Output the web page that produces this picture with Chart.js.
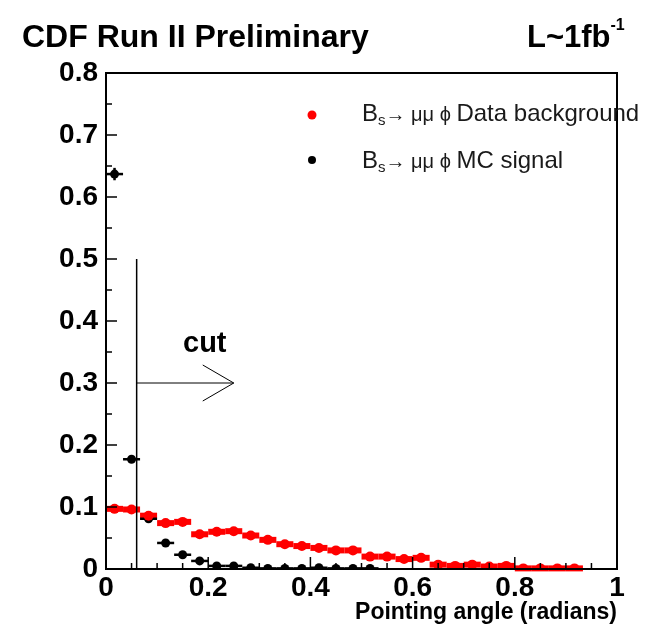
<!DOCTYPE html>
<html>
<head>
<meta charset="utf-8">
<script src="https://cdn.jsdelivr.net/npm/chart.js@4/dist/chart.umd.min.js"></script>
<style>
  html, body { margin: 0; padding: 0; background: #fff; }
</style>
</head>
<body>
<canvas id="angle-chart" width="657" height="628"></canvas>
<script>
// histogram bins of the pointing angle, 30 bins between 0 and 1 rad
const binWidth = 1 / 30;

// Bs -> mu mu phi data background (red)
const bgAngle = [0.0167, 0.05, 0.0833, 0.1167, 0.15, 0.1833, 0.2167, 0.25, 0.2833, 0.3167,
                 0.35, 0.3833, 0.4167, 0.45, 0.4833, 0.5167, 0.55, 0.5833, 0.6167, 0.65,
                 0.6833, 0.7167, 0.75, 0.7833, 0.8167, 0.85, 0.8833, 0.9167];
const bgValues = [0.097, 0.096, 0.086, 0.074, 0.076, 0.056, 0.060, 0.061, 0.054, 0.047,
                  0.040, 0.037, 0.034, 0.030, 0.030, 0.020, 0.020, 0.016, 0.018, 0.007,
                  0.005, 0.007, 0.004, 0.005, 0.001, 0.001, 0.001, 0.001];

// Bs -> mu mu phi MC signal (black)
const sigAngle = [0.0167, 0.05, 0.0833, 0.1167, 0.15, 0.1833, 0.2167, 0.25, 0.2833, 0.3167,
                  0.35, 0.3833, 0.4167, 0.45, 0.4833, 0.5167];
const sigValues = [0.637, 0.177, 0.081, 0.042, 0.023, 0.013, 0.005, 0.005, 0.002, 0.001,
                   0.001, 0.001, 0.002, 0.001, 0.001, 0.001];
const sigErrors = [0.010, 0.004, 0, 0, 0, 0, 0, 0, 0, 0, 0, 0, 0, 0, 0, 0];

// selection cut
const cutAngle = 0.06;
const cutLineTop = 0.5;
const arrowLevel = 0.3;
const arrowTip = 0.25;

const FONT = '"Liberation Sans", Arial, Helvetica, sans-serif';
Chart.defaults.font.family = FONT;

function toPoints(xs, ys) {
    return xs.map((x, i) => ({ x: x, y: ys[i] }));
}

// draws text made of pieces (for sub/superscripts)
function drawPieces(ctx, x, y, pieces) {
    ctx.textAlign = 'left';
    ctx.textBaseline = 'alphabetic';
    pieces.forEach(p => {
        ctx.font = (p.bold ? 'bold ' : '') + p.size + 'px ' + FONT;
        ctx.fillText(p.t, x, y + (p.dy || 0));
        x += ctx.measureText(p.t).width;
    });
}

const histPlugin = {
    id: 'histPlugin',
    beforeDatasetsDraw(chart) {
        const ctx = chart.ctx;
        const xs = chart.scales.x, ys = chart.scales.y;
        ctx.save();
        chart.data.datasets.forEach(ds => {
            ctx.strokeStyle = ds.borderColor;
            ctx.lineWidth = ds.barWidth;
            ctx.lineCap = 'butt';
            ds.data.forEach((p, i) => {
                const y = ys.getPixelForValue(p.y);
                ctx.beginPath();
                ctx.moveTo(xs.getPixelForValue(p.x - binWidth / 2), y);
                ctx.lineTo(xs.getPixelForValue(p.x + binWidth / 2), y);
                ctx.stroke();
                const err = ds.yErr ? ds.yErr[i] : 0;
                if (err > 0) {
                    const x = xs.getPixelForValue(p.x);
                    ctx.beginPath();
                    ctx.moveTo(x, ys.getPixelForValue(p.y - err));
                    ctx.lineTo(x, ys.getPixelForValue(p.y + err));
                    ctx.stroke();
                }
            });
        });
        ctx.restore();
    },
    afterDraw(chart) {
        const ctx = chart.ctx;
        const area = chart.chartArea;
        const xs = chart.scales.x, ys = chart.scales.y;
        ctx.save();
        ctx.strokeStyle = '#000';
        ctx.fillStyle = '#000';

        // frame
        ctx.lineWidth = 2;
        ctx.strokeRect(area.left, area.top, area.right - area.left, area.bottom - area.top);

        // inward ticks, major + minor
        ctx.lineWidth = 1.5;
        const yt = ys.ticks.map(t => t.value);
        yt.forEach((v, i) => {
            const py = ys.getPixelForValue(v);
            ctx.beginPath(); ctx.moveTo(area.left, py); ctx.lineTo(area.left + 11, py); ctx.stroke();
            if (i < yt.length - 1) {
                const pm = ys.getPixelForValue((v + yt[i + 1]) / 2);
                ctx.beginPath(); ctx.moveTo(area.left, pm); ctx.lineTo(area.left + 6, pm); ctx.stroke();
            }
        });
        const xt = xs.ticks.map(t => t.value);
        xt.forEach((v, i) => {
            const px = xs.getPixelForValue(v);
            ctx.beginPath(); ctx.moveTo(px, area.bottom); ctx.lineTo(px, area.bottom - 12); ctx.stroke();
            if (i < xt.length - 1) {
                for (let k = 1; k < 4; k++) {
                    const pm = xs.getPixelForValue(v + (xt[i + 1] - v) * k / 4);
                    ctx.beginPath(); ctx.moveTo(pm, area.bottom); ctx.lineTo(pm, area.bottom - 6); ctx.stroke();
                }
            }
        });

        // cut line and arrow
        const cx = xs.getPixelForValue(cutAngle);
        const ay = ys.getPixelForValue(arrowLevel);
        const tipX = xs.getPixelForValue(arrowTip);
        ctx.lineWidth = 1.5;
        ctx.beginPath();
        ctx.moveTo(cx, area.bottom);
        ctx.lineTo(cx, ys.getPixelForValue(cutLineTop));
        ctx.stroke();
        ctx.lineWidth = 1;
        ctx.beginPath();
        ctx.moveTo(cx, ay);
        ctx.lineTo(tipX, ay);
        ctx.moveTo(tipX - 31, ay - 18);
        ctx.lineTo(tipX, ay);
        ctx.lineTo(tipX - 31, ay + 18);
        ctx.stroke();
        drawPieces(ctx, 183, 352, [{ t: 'cut', size: 29, bold: true }]);

        // legend
        ctx.fillStyle = '#ff0000';
        ctx.beginPath(); ctx.arc(312, 115, 4.5, 0, Math.PI * 2); ctx.fill();
        ctx.fillStyle = '#000';
        ctx.beginPath(); ctx.arc(312, 160, 4, 0, Math.PI * 2); ctx.fill();
        ctx.fillStyle = '#1a1a1a';
        drawPieces(ctx, 362, 121, [
            { t: 'B', size: 24 }, { t: 's', size: 15, dy: 4 },
            { t: '\u2192 \u03bc\u03bc \u03d5 ', size: 20 },
            { t: 'Data background', size: 24 }
        ]);
        drawPieces(ctx, 362, 168, [
            { t: 'B', size: 24 }, { t: 's', size: 15, dy: 4 },
            { t: '\u2192 \u03bc\u03bc \u03d5 ', size: 20 },
            { t: 'MC signal', size: 24 }
        ]);

        // headers
        ctx.fillStyle = '#000';
        drawPieces(ctx, 22, 47, [{ t: 'CDF Run II Preliminary', size: 32, bold: true }]);
        drawPieces(ctx, 527, 47, [
            { t: 'L~1fb', size: 31, bold: true }, { t: '-1', size: 16, bold: true, dy: -17 }
        ]);
        ctx.restore();
    }
};

new Chart(document.getElementById('angle-chart'), {
    type: 'scatter',
    data: {
        datasets: [
            {
                label: 'Data background',
                data: toPoints(bgAngle, bgValues),
                backgroundColor: '#ff0000',
                borderColor: '#ff0000',
                pointRadius: 5,
                pointBorderWidth: 0,
                barWidth: 6
            },
            {
                label: 'MC signal',
                data: toPoints(sigAngle, sigValues),
                yErr: sigErrors,
                backgroundColor: '#000',
                borderColor: '#000',
                pointRadius: 4.5,
                pointBorderWidth: 0,
                barWidth: 2.5
            }
        ]
    },
    options: {
        responsive: false,
        animation: false,
        layout: { padding: { left: 0, right: 40, top: 73, bottom: 0 } },
        plugins: {
            legend: { display: false },
            tooltip: { enabled: false }
        },
        scales: {
            x: {
                type: 'linear',
                min: 0,
                max: 1,
                afterFit: s => { s.height = 59; },
                grid: { display: false },
                border: { display: false },
                ticks: { stepSize: 0.2, color: '#000', padding: -6, maxRotation: 0,
                         font: { size: 28, weight: 'bold' },
                         callback: v => String(+v.toFixed(2)) },
                title: { display: true, text: 'Pointing angle (radians)', align: 'end',
                         color: '#000', font: { size: 23, weight: 'bold' },
                         padding: { top: 0, bottom: 2 } }
            },
            y: {
                min: 0,
                max: 0.8,
                afterFit: s => { s.width = 106; },
                grid: { display: false },
                border: { display: false },
                ticks: { stepSize: 0.1, color: '#000', padding: 0,
                         font: { size: 28, weight: 'bold' } }
            }
        }
    },
    plugins: [histPlugin]
});
</script>
</body>
</html>
